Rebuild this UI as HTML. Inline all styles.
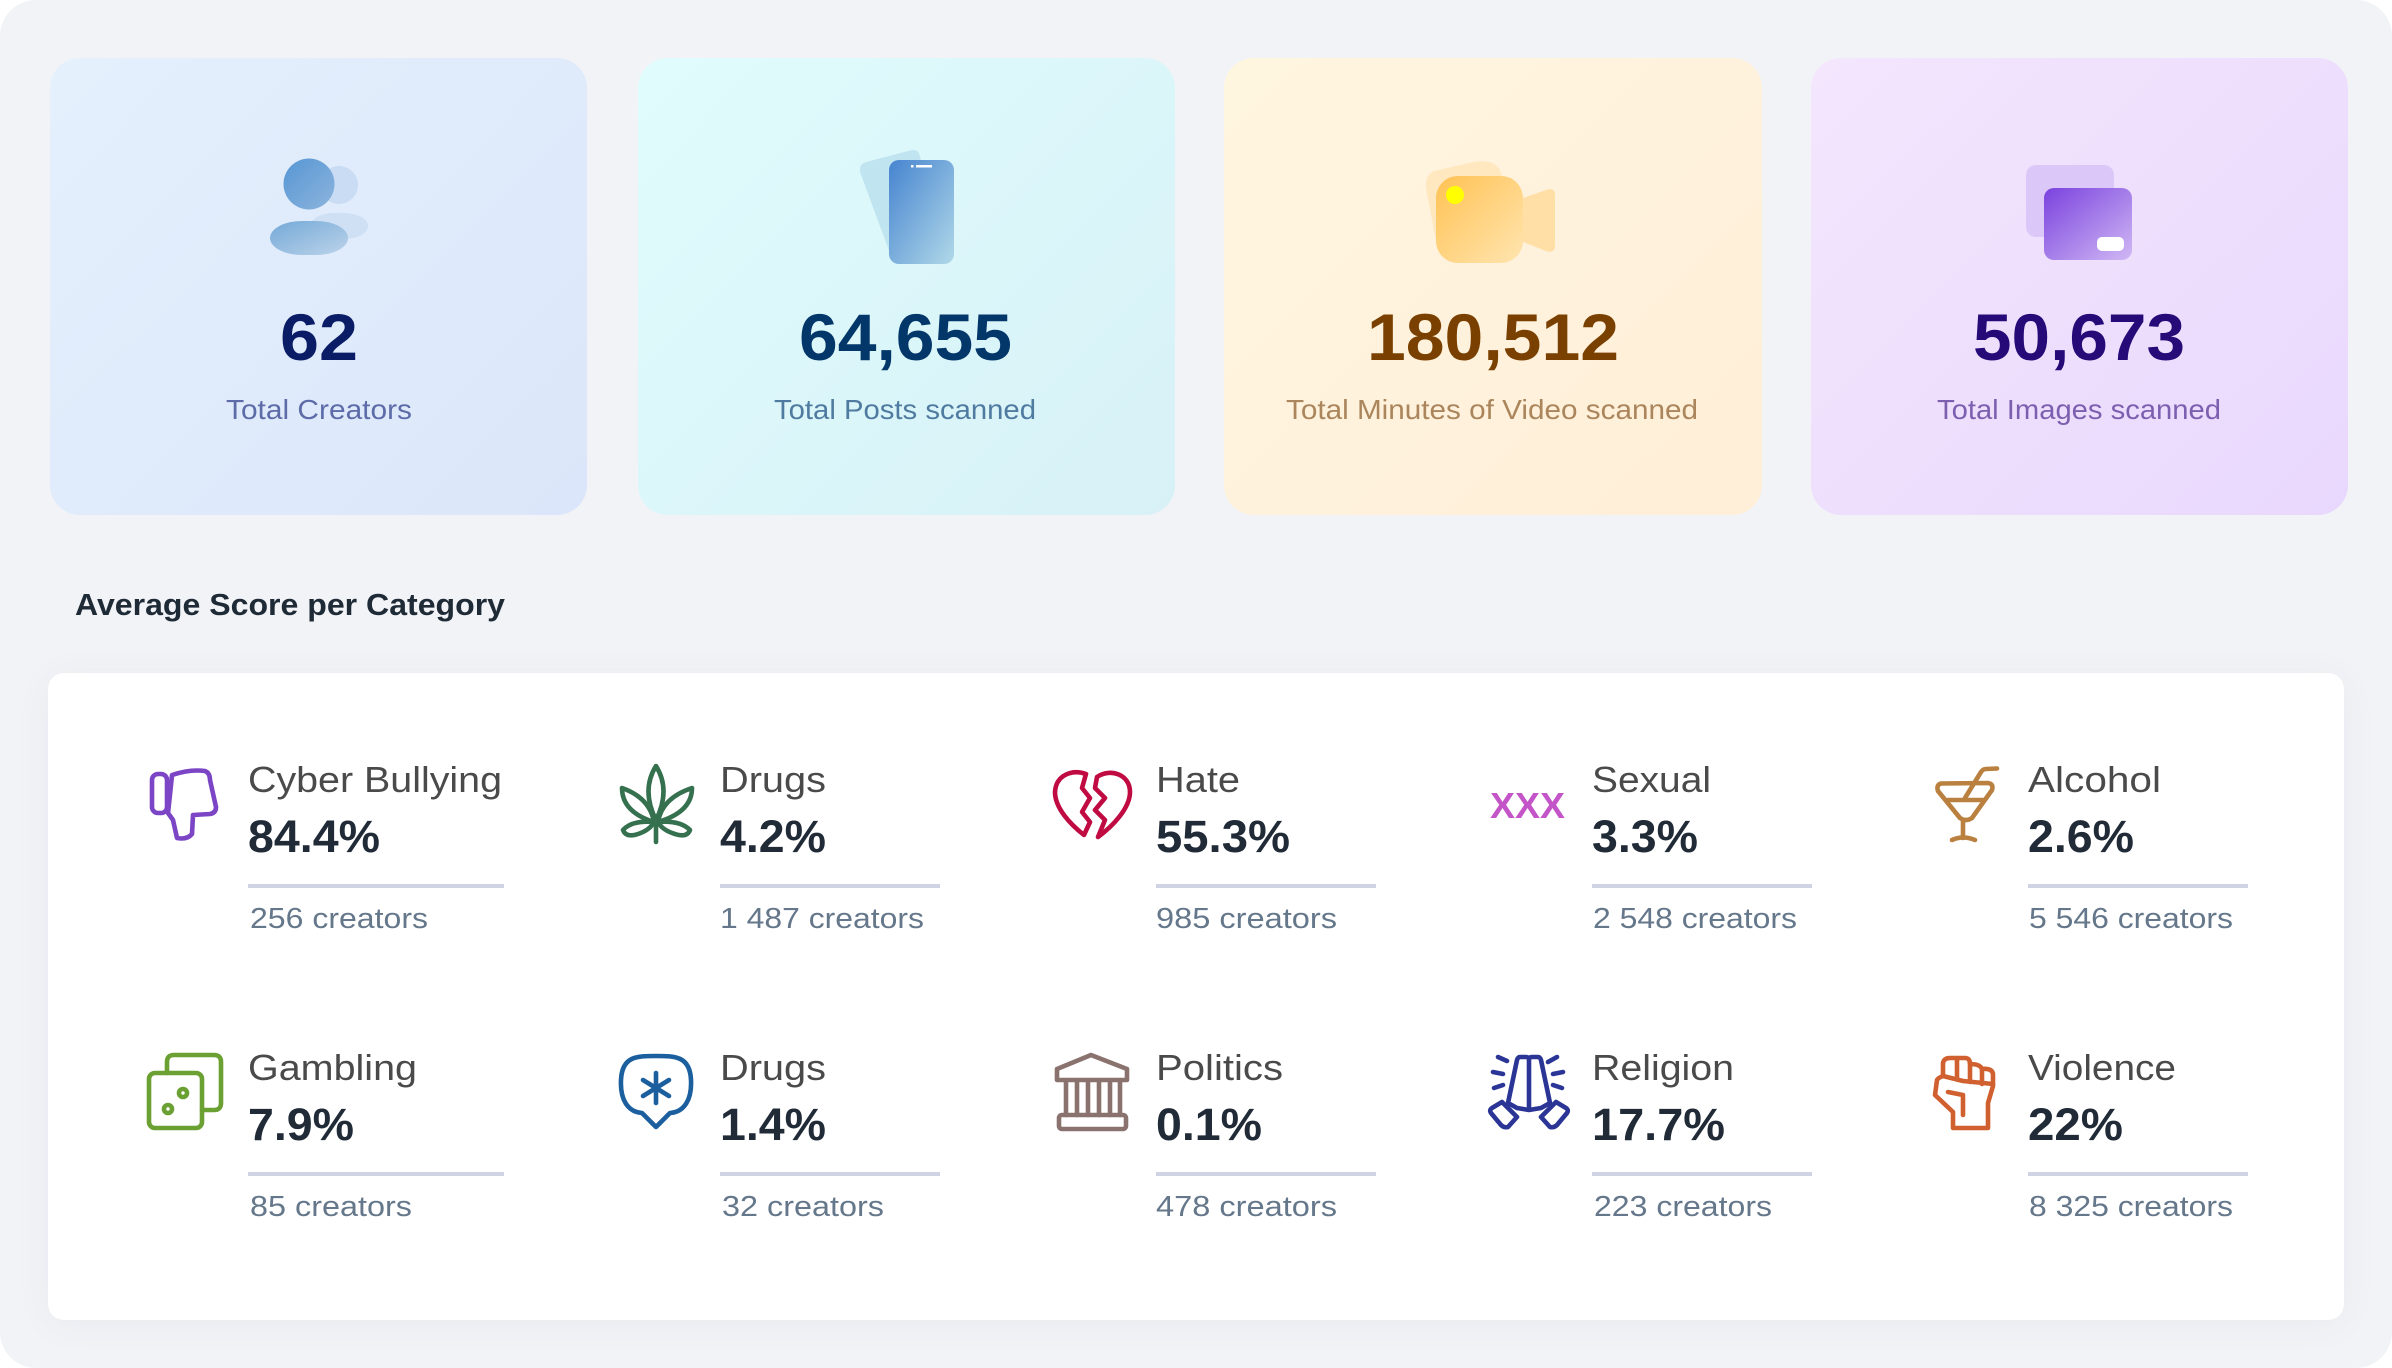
<!DOCTYPE html>
<html lang="en">
<head>
<meta charset="utf-8">
<title>Creator Scan Dashboard</title>
<style>
html,body{margin:0;padding:0;background:#fff;width:2392px;height:1368px;overflow:hidden}
#page{position:absolute;left:0;top:0;width:2392px;height:1368px;background:#f2f3f7;border-radius:36px}
.card{position:absolute;top:58px;height:457px;border-radius:30px}
#panel{position:absolute;left:48px;top:673px;width:2296px;height:647px;background:#fff;border-radius:16px;box-shadow:0 4px 36px rgba(60,70,100,.05)}
svg{position:absolute;left:0;top:0}
text{font-family:"Liberation Sans",sans-serif}
.num{font-size:66px;font-weight:700}
.lab{font-size:28px}
.title{font-size:31px;font-weight:700;fill:#1f2a37}
.name{font-size:36px;fill:#4a4a4a}
.pct{font-size:45px;font-weight:700;fill:#212b38}
.cnt{font-size:29px;fill:#65778a}
.bar{fill:#cfd3e3}
.ln{fill:none;stroke-width:4.6;stroke-linejoin:round;stroke-linecap:round}
</style>
</head>
<body>
<div id="page">
  <div class="card" style="left:50px;width:537px;background:linear-gradient(135deg,#e4f0fc,#dbe6fa)"></div>
  <div class="card" style="left:638px;width:537px;background:linear-gradient(135deg,#e0fcfc,#d7f1f7)"></div>
  <div class="card" style="left:1224px;width:538px;background:linear-gradient(135deg,#fff6e0,#ffeed8)"></div>
  <div class="card" style="left:1811px;width:537px;background:linear-gradient(135deg,#f3e6fd,#e9d8fd)"></div>
  <div id="panel"></div>
</div>
<svg width="2392" height="1368" viewBox="0 0 2392 1368" xmlns="http://www.w3.org/2000/svg">
<defs>
  <linearGradient id="gHead" x1="0" y1="0" x2="1" y2="1"><stop offset="0" stop-color="#5596d3"/><stop offset="1" stop-color="#8db4dd"/></linearGradient>
  <linearGradient id="gBody" x1="0" y1="0" x2="1" y2="1"><stop offset="0" stop-color="#74a9d7"/><stop offset="1" stop-color="#bcd3ea"/></linearGradient>
  <linearGradient id="gPhone" x1="0" y1="0" x2="1" y2="1"><stop offset="0" stop-color="#4684d0"/><stop offset="1" stop-color="#b0d8e8"/></linearGradient>
  <linearGradient id="gCam" x1="0" y1="0" x2="1" y2="1"><stop offset="0" stop-color="#ffc253"/><stop offset="1" stop-color="#ffe5b0"/></linearGradient>
  <linearGradient id="gImg" x1="0" y1="0" x2="1" y2="1"><stop offset="0" stop-color="#7a42de"/><stop offset="1" stop-color="#d0b8f4"/></linearGradient>
</defs>

<!-- summary icons -->
<g>
  <circle cx="339" cy="185" r="19" fill="#c9dcf3"/>
  <rect x="310" y="213" width="58" height="26" rx="24" ry="13" fill="#cfe0f4"/>
  <circle cx="309" cy="184" r="25.5" fill="url(#gHead)"/>
  <rect x="270" y="221" width="78" height="34" rx="32" ry="17" fill="url(#gBody)"/>
</g>
<g>
  <path d="M866 162L912 150Q918 149 920 156L940 264L899 264Q892 264 891 256L860 172Q859 164 866 162Z" fill="#c0e4f0"/>
  <rect x="889" y="160" width="65" height="104" rx="10" fill="url(#gPhone)"/>
  <rect x="916" y="165" width="16" height="2.5" fill="#fff"/>
  <rect x="911" y="165" width="2.5" height="2.5" fill="#fff"/>
</g>
<g>
  <path d="M1434 171L1474 162Q1498 158 1502 176L1510 240L1450 255Q1436 250 1433 225L1426 188Q1425 175 1434 171Z" fill="#ffe7c0"/>
  <rect x="1436" y="176" width="87" height="87" rx="22" fill="url(#gCam)"/>
  <path d="M1523 198L1546 190Q1555 187 1555 195L1555 245Q1555 254 1546 251L1523 242Z" fill="#ffdfa6"/>
  <circle cx="1455" cy="195" r="9" fill="#ffff00"/>
</g>
<g>
  <rect x="2026" y="165" width="88" height="72" rx="10" fill="#dcc8f8"/>
  <rect x="2044" y="188" width="88" height="72" rx="10" fill="url(#gImg)"/>
  <rect x="2097" y="237" width="27" height="14" rx="5" fill="#fff"/>
</g>

<!-- summary numbers -->
<text class="num" x="280" y="360" textLength="78" lengthAdjust="spacingAndGlyphs" fill="#0b1c66">62</text>
<text class="lab" x="226" y="419" textLength="186" lengthAdjust="spacingAndGlyphs" fill="#5d6ba8">Total Creators</text>
<text class="num" x="799" y="360" textLength="213" lengthAdjust="spacingAndGlyphs" fill="#03376a">64,655</text>
<text class="lab" x="774" y="419" textLength="262" lengthAdjust="spacingAndGlyphs" fill="#4f7ba0">Total Posts scanned</text>
<text class="num" x="1367" y="360" textLength="252" lengthAdjust="spacingAndGlyphs" fill="#7a4000">180,512</text>
<text class="lab" x="1286" y="419" textLength="412" lengthAdjust="spacingAndGlyphs" fill="#ab855c">Total Minutes of Video scanned</text>
<text class="num" x="1973" y="360" textLength="212" lengthAdjust="spacingAndGlyphs" fill="#260a78">50,673</text>
<text class="lab" x="1937" y="419" textLength="284" lengthAdjust="spacingAndGlyphs" fill="#7d5fb0">Total Images scanned</text>

<text class="title" x="75" y="615" textLength="430" lengthAdjust="spacingAndGlyphs">Average Score per Category</text>

<!-- row 1 -->
<g>
  <g class="ln" stroke="#7b45c6">
    <rect x="152" y="774" width="15" height="39" rx="6"/>
    <path d="M172 775Q190 769 205 771Q210 773 210 780L216 807Q216 813 210 814L193 815L192 834Q187 840 177 838L173 820L168 813Q170 795 172 775Z"/>
  </g>
  <text class="name" x="248" y="792" textLength="254" lengthAdjust="spacingAndGlyphs">Cyber Bullying</text>
  <text class="pct" x="248" y="852" textLength="132" lengthAdjust="spacingAndGlyphs">84.4%</text>
  <rect class="bar" x="248" y="884" width="256" height="4"/>
  <text class="cnt" x="250" y="928" textLength="178" lengthAdjust="spacingAndGlyphs">256 creators</text>
</g>
<g>
  <g class="ln" stroke="#35704f">
    <path d="M656 766Q641 790 656 820Q671 790 656 766Z"/>
    <path d="M622 788Q622 812 654 822Q650 798 622 788Z"/>
    <path d="M692 788Q692 812 658 822Q662 798 692 788Z"/>
    <path d="M623 830Q626 838 638 834Q650 830 654 822Q632 820 623 830Z"/>
    <path d="M690 830Q687 838 675 834Q662 830 658 822Q680 820 690 830Z"/>
    <path d="M656 820L656 842"/>
  </g>
  <text class="name" x="720" y="792" textLength="106" lengthAdjust="spacingAndGlyphs">Drugs</text>
  <text class="pct" x="720" y="852" textLength="106" lengthAdjust="spacingAndGlyphs">4.2%</text>
  <rect class="bar" x="720" y="884" width="220" height="4"/>
  <text class="cnt" x="720" y="928" textLength="204" lengthAdjust="spacingAndGlyphs">1 487 creators</text>
</g>
<g>
  <g class="ln" stroke="#c00a42">
    <path d="M1086 774C1072 769 1056 775 1055 792C1055 808 1070 824 1084 835L1090 822L1082 812L1090 798L1082 788Z"/>
    <path d="M1097 777C1110 768 1130 774 1130 792C1130 808 1113 826 1098 837L1105 820L1095 810L1105 798L1095 788Z"/>
  </g>
  <text class="name" x="1156" y="792" textLength="84" lengthAdjust="spacingAndGlyphs">Hate</text>
  <text class="pct" x="1156" y="852" textLength="134" lengthAdjust="spacingAndGlyphs">55.3%</text>
  <rect class="bar" x="1156" y="884" width="220" height="4"/>
  <text class="cnt" x="1156" y="928" textLength="181" lengthAdjust="spacingAndGlyphs">985 creators</text>
</g>
<g>
  <text x="1490" y="818" font-size="36" font-weight="700" fill="#c455c8" textLength="75" lengthAdjust="spacingAndGlyphs">XXX</text>
  <text class="name" x="1592" y="792" textLength="119" lengthAdjust="spacingAndGlyphs">Sexual</text>
  <text class="pct" x="1592" y="852" textLength="106" lengthAdjust="spacingAndGlyphs">3.3%</text>
  <rect class="bar" x="1592" y="884" width="220" height="4"/>
  <text class="cnt" x="1593" y="928" textLength="204" lengthAdjust="spacingAndGlyphs">2 548 creators</text>
</g>
<g>
  <g class="ln" stroke="#b9803f">
    <path d="M1941 783.500L1988 783Q1994 784 1992 790L1972 818Q1966 822 1960 818L1938 791Q1936 785 1941 783.500Z"/>
    <path d="M1948 800L1983 800"/>
    <path d="M1965 798L1981 772Q1983 769 1986 769L1997 768.500"/>
    <path d="M1963 821L1963 838"/>
    <path d="M1952 840Q1963 835 1975 840"/>
  </g>
  <text class="name" x="2028" y="792" textLength="133" lengthAdjust="spacingAndGlyphs">Alcohol</text>
  <text class="pct" x="2028" y="852" textLength="106" lengthAdjust="spacingAndGlyphs">2.6%</text>
  <rect class="bar" x="2028" y="884" width="220" height="4"/>
  <text class="cnt" x="2029" y="928" textLength="204" lengthAdjust="spacingAndGlyphs">5 546 creators</text>
</g>

<!-- row 2 -->
<g>
  <g class="ln" stroke="#6ba033">
    <rect x="149" y="1073" width="53" height="55" rx="6"/>
    <path d="M167 1073L167 1062Q167 1055 174 1055L214 1055Q221 1055 221 1062L221 1103Q221 1110 214 1110L202 1110"/>
    <circle cx="183" cy="1093" r="4"/>
    <circle cx="168" cy="1109" r="4"/>
  </g>
  <text class="name" x="248" y="1080" textLength="169" lengthAdjust="spacingAndGlyphs">Gambling</text>
  <text class="pct" x="248" y="1140" textLength="106" lengthAdjust="spacingAndGlyphs">7.9%</text>
  <rect class="bar" x="248" y="1172" width="256" height="4"/>
  <text class="cnt" x="250" y="1216" textLength="162" lengthAdjust="spacingAndGlyphs">85 creators</text>
</g>
<g>
  <g class="ln" stroke="#1b5f9e">
    <path d="M656 1056C675 1056 690 1056 691 1080C692 1100 684 1112 670 1113L656 1127L642 1113C628 1112 620 1100 621 1080C622 1056 637 1056 656 1056Z"/>
    <path d="M656 1073L656 1103M643 1080L669 1096M669 1080L643 1096"/>
  </g>
  <text class="name" x="720" y="1080" textLength="106" lengthAdjust="spacingAndGlyphs">Drugs</text>
  <text class="pct" x="720" y="1140" textLength="106" lengthAdjust="spacingAndGlyphs">1.4%</text>
  <rect class="bar" x="720" y="1172" width="220" height="4"/>
  <text class="cnt" x="722" y="1216" textLength="162" lengthAdjust="spacingAndGlyphs">32 creators</text>
</g>
<g>
  <g class="ln" stroke="#8a736f">
    <path d="M1091 1055L1127 1069L1127 1080L1057 1080L1057 1069Z"/>
    <path d="M1066 1082L1066 1115M1077 1082L1077 1115M1088 1082L1088 1115M1099 1082L1099 1115M1110 1082L1110 1115M1120 1082L1120 1115"/>
    <rect x="1059" y="1115" width="67" height="14" rx="3"/>
  </g>
  <text class="name" x="1156" y="1080" textLength="127" lengthAdjust="spacingAndGlyphs">Politics</text>
  <text class="pct" x="1156" y="1140" textLength="106" lengthAdjust="spacingAndGlyphs">0.1%</text>
  <rect class="bar" x="1156" y="1172" width="220" height="4"/>
  <text class="cnt" x="1156" y="1216" textLength="181" lengthAdjust="spacingAndGlyphs">478 creators</text>
</g>
<g>
  <g class="ln" stroke="#2b3596">
    <path d="M1529 1110L1529 1060Q1529 1057 1526 1057L1520 1057Q1518 1057 1517 1060L1508 1103L1517 1108L1529 1110L1541 1108L1550 1103L1541 1060Q1540 1057 1538 1057L1532 1057Q1529 1057 1529 1060"/>
    <path d="M1502 1102L1517 1117L1508 1127Q1504 1128 1501 1125L1491 1113Q1489 1110 1492 1108Z"/>
    <path d="M1556 1102L1541 1117L1550 1127Q1554 1128 1557 1125L1567 1113Q1569 1110 1566 1108Z"/>
    <path d="M1498 1057L1507 1061M1493 1072L1503 1074M1494 1088L1503 1085M1557 1057L1548 1062M1563 1072L1553 1074M1562 1088L1553 1085"/>
  </g>
  <text class="name" x="1592" y="1080" textLength="142" lengthAdjust="spacingAndGlyphs">Religion</text>
  <text class="pct" x="1592" y="1140" textLength="133" lengthAdjust="spacingAndGlyphs">17.7%</text>
  <rect class="bar" x="1592" y="1172" width="220" height="4"/>
  <text class="cnt" x="1594" y="1216" textLength="178" lengthAdjust="spacingAndGlyphs">223 creators</text>
</g>
<g>
  <g class="ln" stroke="#d0602f">
    <path d="M1943 1076L1943 1063Q1944 1058 1950 1058L1965 1058Q1970 1058 1970 1064Q1980 1064 1982 1069Q1992 1068 1993 1074L1993 1086L1988 1103L1988 1128L1953 1128L1953 1112L1935 1095L1937 1080Q1938 1078 1943 1076Z"/>
    <path d="M1957 1059L1957 1079M1970 1064L1970 1082M1982 1069L1982 1084M1943 1076L1963 1081L1993 1084"/>
    <path d="M1948 1092L1963 1095L1963 1115"/>
  </g>
  <text class="name" x="2028" y="1080" textLength="148" lengthAdjust="spacingAndGlyphs">Violence</text>
  <text class="pct" x="2028" y="1140" textLength="95" lengthAdjust="spacingAndGlyphs">22%</text>
  <rect class="bar" x="2028" y="1172" width="220" height="4"/>
  <text class="cnt" x="2029" y="1216" textLength="204" lengthAdjust="spacingAndGlyphs">8 325 creators</text>
</g>
</svg>
</body>
</html>
